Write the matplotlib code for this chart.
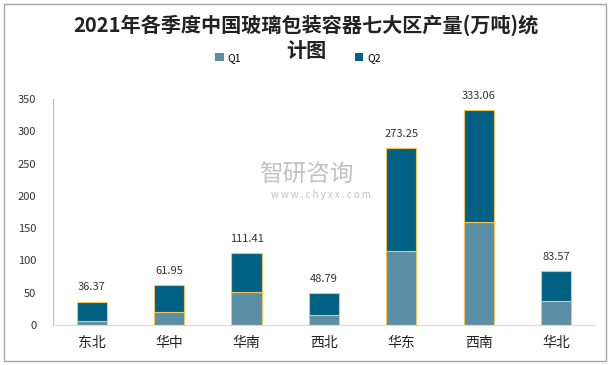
import numpy as np
import matplotlib.pyplot as plt
from matplotlib.patches import Rectangle, Patch

plt.rcParams['font.family'] = ['Noto Sans CJK SC', 'DejaVu Sans']

regions = ['东北', '华中', '华南', '西北', '华东', '西南', '华北']
totals = [36.37, 61.95, 111.41, 48.79, 273.25, 333.06, 83.57]
q1 = [6.7, 20.6, 51.0, 15.5, 114.5, 159.0, 37.0]
q2 = [t - a for t, a in zip(totals, q1)]
yticks = [0, 50, 100, 150, 200, 250, 300, 350]

c_q1 = '#5B8FA6'
c_q2 = '#006185'
c_edge = '#F2C45C'

fig = plt.figure(figsize=(6.12, 3.65), dpi=100)
ax = fig.add_axes([0.0866, 0.1096, 0.8854, 0.6194])

x = np.arange(len(regions))
w = 0.39
ax.bar(x, q1, w, color=c_q1, edgecolor=c_edge, linewidth=0.8)
ax.bar(x, q2, w, bottom=q1, color=c_q2, edgecolor=c_edge, linewidth=0.8)

for xi, t in zip(x, totals):
    ax.text(xi, t + 14, f'{t:.2f}', ha='center', va='bottom', fontsize=8, color='#333333')

ax.set_xlim(-0.5, len(regions) - 0.5)
ax.set_ylim(0, 350)
ax.set_yticks(yticks)
ax.set_xticks(x)
ax.set_xticklabels(regions, fontsize=10, color='#222222')
ax.tick_params(axis='y', length=0, pad=12, labelsize=8, labelcolor='#333333')
ax.tick_params(axis='x', length=0, pad=8)
for s in ['top', 'right']:
    ax.spines[s].set_visible(False)
ax.spines['left'].set_color('#BFBFBF')
ax.spines['bottom'].set_color('#D9D9D9')

fig.text(0.5, 0.931, '2021年各季度中国玻璃包装容器七大区产量(万吨)统', ha='center', va='center',
         fontsize=14.5, fontweight='bold', color='#222222')
fig.text(0.5, 0.862, '计图', ha='center', va='center',
         fontsize=14.5, fontweight='bold', color='#222222')

handles = [Patch(facecolor=c_q1, label='Q1'), Patch(facecolor=c_q2, label='Q2')]
fig.legend(handles=handles, loc='center', bbox_to_anchor=(0.487, 0.841), ncol=2, frameon=False,
           fontsize=7.5, handlelength=0.8, handleheight=0.8, columnspacing=10.9,
           handletextpad=0.4)

# watermark
fig.text(0.5, 0.52, '智研咨询', ha='center', va='center', fontsize=17,
         color='#9A9A9A', alpha=0.6)
fig.text(0.525, 0.465, 'w w w . c h y x x . c o m', ha='center', va='center',
         fontsize=7, color='#9A9A9A', alpha=0.6)

fig.add_artist(Rectangle((0.006, 0.012), 0.985, 0.978, transform=fig.transFigure,
                         fill=False, edgecolor='#A6A6A6', linewidth=1))

fig.savefig('out.png', dpi=100)
